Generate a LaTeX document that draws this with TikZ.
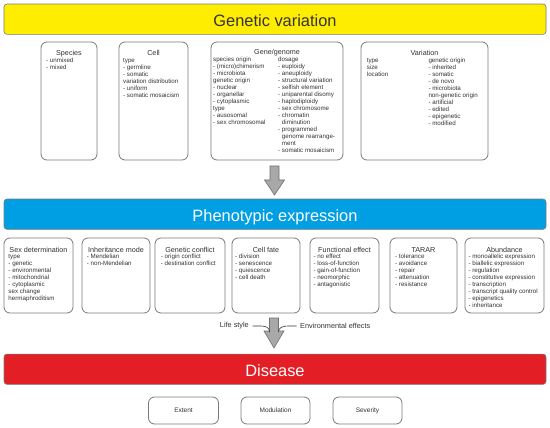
\documentclass[tikz,border=0pt]{standalone}
\usepackage{fontspec}
\setmainfont{Liberation Sans}
\definecolor{gvyellow}{HTML}{FFED00}
\definecolor{peblue}{HTML}{009FE3}
\definecolor{dsred}{HTML}{E31E24}
\definecolor{boxgray}{HTML}{7A7A7A}
\definecolor{txtgray}{HTML}{333333}
\definecolor{arrfill}{HTML}{A8A8A8}
\definecolor{arrline}{HTML}{707070}
\begin{document}
\begin{tikzpicture}[x=1pt,y=-1pt,
  banner/.style={draw=boxgray, line width=0.6pt, rounded corners=3pt, minimum width=542pt, minimum height=30.3pt, inner sep=0pt, font=\fontsize{16.4}{18}\selectfont, text height=14.7pt, text depth=0pt},
  box/.style={draw=boxgray, line width=0.8pt, rounded corners=6pt, inner sep=0pt},
  ttl/.style={anchor=base, inner sep=0pt, text=txtgray, font=\fontsize{7.2}{8}\selectfont},
  itm/.style={anchor=north west, inner sep=0pt, align=left, text=txtgray, font=\fontsize{6.2}{7}\selectfont},
  lbl/.style={inner sep=0pt, text=txtgray, font=\fontsize{7.3}{8}\selectfont},
  bigarrow/.style={fill=arrfill, draw=arrline, line width=0.6pt, line join=miter},
  curve/.style={draw=txtgray, line width=0.6pt}
]
\useasboundingbox[fill=white] (0,0) rectangle (550,428);

% banners
\node[banner, fill=gvyellow, text=txtgray] (gv) at (275,19.2) {Genetic variation};
\node[banner, fill=peblue, text=white] (pe) at (275,214.2) {Phenotypic expression};
\node[banner, fill=dsred, text=white] (ds) at (275,369.2) {Disease};

% top boxes
\node[box, minimum width=56pt, minimum height=118pt] (species) at (69,101) {};
\node[box, minimum width=69pt, minimum height=118pt] (cell) at (153.5,101) {};
\node[box, minimum width=132pt, minimum height=118pt] (gene) at (277,101) {};
\node[box, minimum width=127pt, minimum height=118pt] (variation) at (424.5,101) {};

\node[ttl] (speciesT) at (69,55.5) {Species};
\node[itm] (speciesI) at (46,57.6) {\strut- unmixed\\- mixed};

\node[ttl] (cellT) at (153.5,55.5) {Cell};
\node[itm] (cellI) at (123,57.6) {\strut type\\- germline\\- somatic\\variation distribution\\- uniform\\- somatic mosaicism};

\node[ttl] (geneT) at (277,54.5) {Gene/genome};
\node[itm] (geneI1) at (213,56.1) {\strut species origin\\- (micro)chimerism\\- microbiota\\genetic origin\\- nuclear\\- organellar\\- cytoplasmic\\type\\- ausosomal\\- sex chromosomal};
\node[itm] (geneI2) at (278,56.1) {\strut dosage\\- euploidy\\- aneuploidy\\- structural variation\\- selfish element\\- uniparental disomy\\- haplodiploidy\\- sex chromosome\\- chromatin\\\phantom{- }diminution\\- programmed\\\phantom{- }genome rearrange-\\\phantom{- }ment\\- somatic mosaicism};

\node[ttl] (variationT) at (424.5,55.5) {Variation};
\node[itm] (variationI1) at (366.7,57.6) {\strut type\\size\\location};
\node[itm] (variationI2) at (428.3,57.6) {\strut genetic origin\\- inherited\\- somatic\\- de novo\\- microbiota\\non-genetic origin\\- artificial\\- edited\\- epigenetic\\- modified};

% arrow 1
\path (274.5,166) coordinate (a1top) (274.5,195) coordinate (a1tip);
\draw[bigarrow] (270,166) -- (279,166) -- (279,180) -- (284.5,180) -- (a1tip) -- (264.5,180) -- (270,180) -- cycle;

% middle boxes
\node[box, minimum width=69pt, minimum height=75pt] (sexdet) at (38.5,275.5) {};
\node[box, minimum width=68pt, minimum height=75pt] (inherit) at (116,275.5) {};
\node[box, minimum width=70pt, minimum height=75pt] (conflict) at (190,275.5) {};
\node[box, minimum width=68pt, minimum height=75pt] (cellfate) at (266,275.5) {};
\node[box, minimum width=69pt, minimum height=75pt] (funceff) at (344.5,275.5) {};
\node[box, minimum width=67pt, minimum height=75pt] (tarar) at (423.5,275.5) {};
\node[box, minimum width=79pt, minimum height=75pt] (abund) at (504.5,275.5) {};

\node[ttl] (sexdetT) at (38.5,252) {Sex determination};
\node[itm] (sexdetI) at (8.3,253.4) {\strut type\\- genetic\\- environmental\\- mitochondrial\\- cytoplasmic\\sex change\\hermaphroditism};
\node[ttl] (inheritT) at (116,252) {Inheritance mode};
\node[itm] (inheritI) at (86.7,253.4) {\strut- Mendelian\\- non-Mendelian};
\node[ttl] (conflictT) at (190,252) {Genetic conflict};
\node[itm] (conflictI) at (160.7,253.4) {\strut- origin conflict\\- destination conflict};
\node[ttl] (cellfateT) at (266,252) {Cell fate};
\node[itm] (cellfateI) at (235,253.4) {\strut- division\\- senescence\\- quiescence\\- cell death};
\node[ttl] (funceffT) at (344.5,252) {Functional effect};
\node[itm] (funceffI) at (313.3,253.4) {\strut- no effect\\- loss-of-function\\- gain-of-function\\- neomorphic\\- antagonistic};
\node[ttl] (tararT) at (423.5,252) {TARAR};
\node[itm] (tararI) at (395,253.4) {\strut- tolerance\\- avoidance\\- repair\\- attenuation\\- resistance};
\node[ttl] (abundT) at (504.5,252) {Abundance};
\node[itm] (abundI) at (468.3,253.4) {\strut- monoallelic expression\\- biallelic expression\\- regulation\\- constitutive expression\\- transcription\\- transcript quality control\\- epigenetics\\- inheritance};

% arrow 2
\path (274,348) coordinate (a2tip) (269.5,332) coordinate (a2l) (278.5,332) coordinate (a2r);
\draw[bigarrow] (269.5,318) -- (278.5,318) -- (278.5,331) -- (284,331) -- (a2tip) -- (264,331) -- (269.5,331) -- cycle;

\node[lbl, anchor=east] (life) at (249,326) {Life style};
\node[lbl, anchor=west] (env) at (300,326) {Environmental effects};
\draw[curve] (life.east) ++(3.5,0) -- (261,326) .. controls (266,326) and (269.5,327.5) .. (a2l);
\draw[curve] (env.west) ++(-3.5,0) -- (288,326) .. controls (283,326) and (278.5,327.5) .. (a2r);

% bottom boxes
\node[box, minimum width=70pt, minimum height=27pt, text=txtgray, font=\fontsize{6.5}{7}\selectfont] (extent) at (183.5,410.5) {Extent};
\node[box, minimum width=69pt, minimum height=27pt, text=txtgray, font=\fontsize{6.5}{7}\selectfont] (modul) at (275.5,410.5) {Modulation};
\node[box, minimum width=69pt, minimum height=27pt, text=txtgray, font=\fontsize{6.5}{7}\selectfont] (sever) at (367.5,410.5) {Severity};
\end{tikzpicture}
\end{document}
